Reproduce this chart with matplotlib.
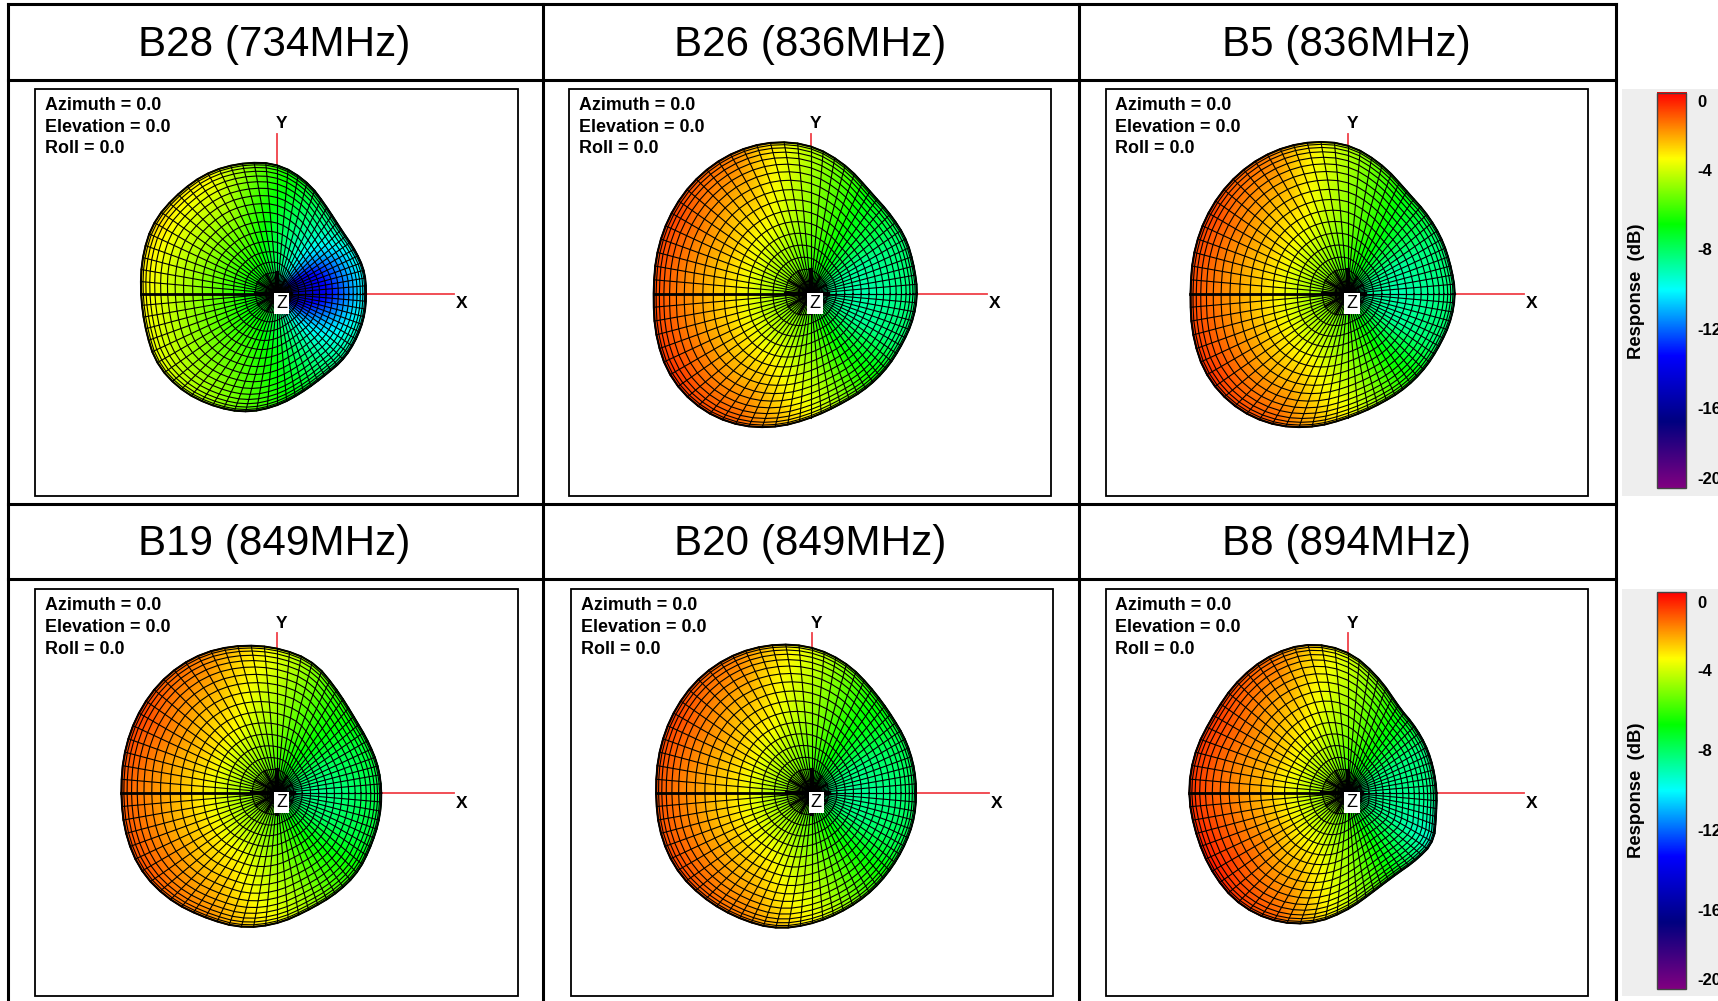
import matplotlib
matplotlib.use("Agg")
import matplotlib.pyplot as plt
from matplotlib.colors import LinearSegmentedColormap
from matplotlib.patches import Rectangle
import numpy as np

plt.rcParams["font.family"] = ["Liberation Sans", "DejaVu Sans"]

titles = ["B28 (734MHz)", "B26 (836MHz)", "B5 (836MHz)",
          "B19 (849MHz)", "B20 (849MHz)", "B8 (894MHz)"]

# outline of each pattern, pixels from the origin, one value every 15 deg
outline_angles = np.arange(0, 360, 15)
outline_b28 = [81, 82, 81, 82, 90, 105, 118, 123, 127, 128, 130, 127,
               124, 124, 127, 124, 118, 112, 102, 92, 86, 85, 83, 82]
outline_b26 = [97, 97, 100, 102, 107, 121, 135, 143, 147, 148, 147, 145,
               143, 146, 149, 146, 138, 126, 113, 104, 100, 97, 95, 96]
outline_b5 = [98, 97, 99, 102, 107, 121, 136, 143, 147, 148, 147, 145,
              143, 146, 149, 146, 138, 126, 113, 105, 101, 98, 96, 97]
outline_b19 = [95, 95, 95, 98, 108, 124, 132, 139, 145, 147, 146, 144,
               142, 143, 143, 138, 131, 127, 119, 110, 106, 103, 98, 96]
outline_b20 = [95, 96, 98, 101, 109, 122, 133, 140, 145, 147, 146, 144,
               142, 143, 142, 137, 132, 128, 119, 111, 105, 100, 97, 96]
outline_b8 = [81, 81, 83, 86, 91, 108, 129, 141, 144, 143, 141, 144,
              145, 143, 143, 142, 135, 123, 106, 92, 86, 87, 90, 83]
outlines = [outline_b28, outline_b26, outline_b5, outline_b19, outline_b20, outline_b8]

# response in dB, one value every 30 deg, on three rings of the pattern
db_angles = np.arange(0, 360, 30)
ring_fracs = [0.15, 0.5, 1.0]

db_b28 = [[-16, -15.5, -10, -8, -7, -6.8, -6.8, -7, -7, -8, -10, -14],
          [-14, -13, -9.5, -7.5, -5.3, -5, -5.2, -5.4, -5.8, -7, -9, -11.5],
          [-10, -9.5, -8, -6, -3.2, -2.8, -3.2, -3.6, -4.6, -6.3, -8, -9]]
db_b26 = [[-8.8, -8.2, -7, -6.2, -5.3, -5, -5, -5, -5.2, -6, -7, -8.2],
          [-9, -8.7, -6.8, -5, -3.4, -2.9, -3, -2.9, -3.3, -4.8, -6.8, -8.7],
          [-8.2, -8, -6.8, -4.3, -1.6, -0.8, -1, -0.6, -1.2, -3.3, -6, -8]]
db_b5 = [[-8.8, -8.2, -7, -6.2, -5.3, -5, -5, -5, -5.2, -6, -7, -8.2],
         [-9, -8.7, -6.8, -5, -3.4, -2.9, -3, -2.9, -3.3, -4.8, -6.8, -8.7],
         [-8.2, -8.1, -6.8, -4.3, -1.6, -0.8, -1, -0.6, -1.2, -3.3, -6, -8]]
db_b19 = [[-8.6, -8, -7, -6, -5.2, -5, -5, -5, -5.2, -6, -7, -8],
          [-8.5, -8, -6.4, -4.8, -3.3, -2.8, -3, -3, -3.4, -4.8, -6.4, -8],
          [-7.6, -7.2, -6, -3.6, -1.6, -0.8, -1.2, -1, -1.8, -3.4, -5.5, -7.2]]
db_b20 = [[-8.6, -8, -7, -6, -5.2, -5, -5, -5, -5.2, -6, -7, -8],
          [-8.7, -8.3, -6.6, -4.8, -3.3, -2.8, -3, -3, -3.4, -4.8, -6.5, -8.3],
          [-8, -7.6, -6.3, -3.8, -1.6, -0.8, -1.1, -0.9, -1.6, -3.3, -5.8, -7.6]]
db_b8 = [[-8.6, -8, -7, -6, -5, -4.8, -4.8, -4.8, -5, -6, -7.2, -8.2],
         [-8.6, -8.3, -6.6, -4.8, -3.2, -2.6, -2.6, -2.4, -3, -4.8, -7, -8.5],
         [-8.4, -8.3, -6.5, -3.8, -1.4, -0.7, -0.7, -0.3, -1.2, -4, -6.8, -9.5]]
db_grids = [db_b28, db_b26, db_b5, db_b19, db_b20, db_b8]

colorbar_ticks = ["0", "-4", "-8", "-12", "-16", "-20"]
info_lines = ["Azimuth = 0.0", "Elevation = 0.0", "Roll = 0.0"]

# layout, in the 1568x914 space of the picture
table_x = [7, 496, 985, 1475]
table_y = [4, 73, 460, 529]
boxes = [(32, 81, 473, 453), (519, 81, 959, 453), (1009, 81, 1449, 453),
         (32, 538, 473, 909), (521, 538, 961, 909), (1009, 538, 1449, 909)]
origins = [(253, 268), (740, 268), (1230, 268), (253, 724), (741, 724), (1230, 724)]
x_ends = [414, 901, 1391, 414, 903, 1391]
bar_boxes = [(81, 453, 85, 446), (538, 909, 541, 903)]
tick_rows = [[94, 157, 229, 302, 374, 438], [551, 613, 686, 759, 832, 895]]

cmap = LinearSegmentedColormap.from_list(
    "response", ["#800080", "#000080", "#0000ff", "#00ffff", "#00ff00", "#ffff00", "#ff0000"])


def draw_pattern(ax, origin, outline, grid):
    cx, cy = origin
    theta = np.radians(np.arange(0, 91, 5))
    phi = np.arange(0, 361, 5)

    radius = np.interp(phi, outline_angles, outline, period=360)
    radius = np.convolve(np.r_[radius[-3:-1], radius, radius[1:3]], np.ones(3) / 3, "same")[2:-2]

    frac = np.sin(theta) * (0.9 + 0.1 * np.sin(theta))
    rr = np.outer(frac, radius)
    xx = cx + rr * np.cos(np.radians(phi))
    yy = cy - rr * np.sin(np.radians(phi))

    rings = [np.interp(phi, db_angles, row, period=360) for row in grid]
    db = np.array([np.interp(frac, ring_fracs, col) for col in np.array(rings).T]).T

    ax.pcolormesh(xx, yy, db, shading="gouraud", cmap=cmap, vmin=-20, vmax=0, zorder=3)
    ax.plot(xx, yy, color="black", lw=0.8, zorder=4)
    ax.plot(xx.T, yy.T, color="black", lw=0.8, zorder=4)
    ax.plot(xx[-1], yy[-1], color="black", lw=1.2, zorder=5)
    ax.plot(xx[:, 36], yy[:, 36], color="black", lw=2, zorder=5)
    # the dark star where the mesh closes at the pole
    ax.plot(xx[:3, ::6], yy[:3, ::6], color="black", lw=1.6, zorder=5)
    ax.plot(xx[:3, ::18], yy[:3, ::18], color="black", lw=3, zorder=5)


fig = plt.figure(figsize=(17.18, 10.01), dpi=100)
ax = fig.add_axes([0, 0, 1, 1])
ax.set_xlim(0, 1568)
ax.set_ylim(914, 0)
ax.axis("off")

for x in table_x:
    ax.plot([x, x], [4, 914], color="black", lw=2.2, zorder=2)
for y in table_y:
    ax.plot([7, 1475], [y, y], color="black", lw=2.2, zorder=2)

for i, title in enumerate(titles):
    col = i % 3
    row = i // 3
    xc = (table_x[col] + table_x[col + 1]) / 2 - 1
    yc = (table_y[row * 2] + table_y[row * 2 + 1]) / 2 + 2.5
    ax.text(xc, yc, title, fontsize=30.3, ha="center", va="center", color="black")

    x0, y0, x1, y1 = boxes[i]
    ax.add_patch(Rectangle((x0, y0), x1 - x0, y1 - y0, fc="white", ec="black", lw=1.3, zorder=1))
    for k, line in enumerate(info_lines):
        ax.text(x0 + 9, y0 + 15 + k * 20, line, fontsize=12.9, weight="bold", ha="left", va="center")

    cx, cy = origins[i]
    ax.plot([cx, x_ends[i]], [cy, cy], color="#f04048", lw=1.3, zorder=2)
    ax.plot([cx, cx], [cy, cy - 146], color="#f04048", lw=1.3, zorder=2)
    draw_pattern(ax, origins[i], outlines[i], db_grids[i])

    ax.text(cx + 4, cy - 155, "Y", fontsize=12.5, weight="bold", ha="center", va="center")
    ax.text(x_ends[i] + 7, cy + 9.5, "X", fontsize=12.5, weight="bold", ha="center", va="center")
    ax.text(cx + 4, cy + 9, "Z", fontsize=13, ha="center", va="center", zorder=7,
            bbox=dict(fc="white", ec="none", pad=1.5))

gradient = np.linspace(0, -20, 256).reshape(-1, 1)
for (gy0, gy1, by0, by1), rows in zip(bar_boxes, tick_rows):
    ax.add_patch(Rectangle((1480, gy0), 90, gy1 - gy0, fc="#eeeeee", ec="none", zorder=1))
    ax.imshow(gradient, cmap=cmap, vmin=-20, vmax=0, extent=(1512, 1539, by1, by0), aspect="auto", zorder=2)
    ax.add_patch(Rectangle((1512, by0), 27, by1 - by0, fc="none", ec="#444444", lw=1, zorder=3))
    for label, y in zip(colorbar_ticks, rows):
        ax.text(1549, y, label, fontsize=12, weight="bold", ha="left", va="center", clip_on=True)
    ax.text(1494, (by0 + by1) / 2, "Response  (dB)", fontsize=13.3, weight="bold",
            rotation=90, ha="center", va="center")

ax.set_xlim(0, 1568)
ax.set_ylim(914, 0)
fig.savefig("out.png", dpi=100)
